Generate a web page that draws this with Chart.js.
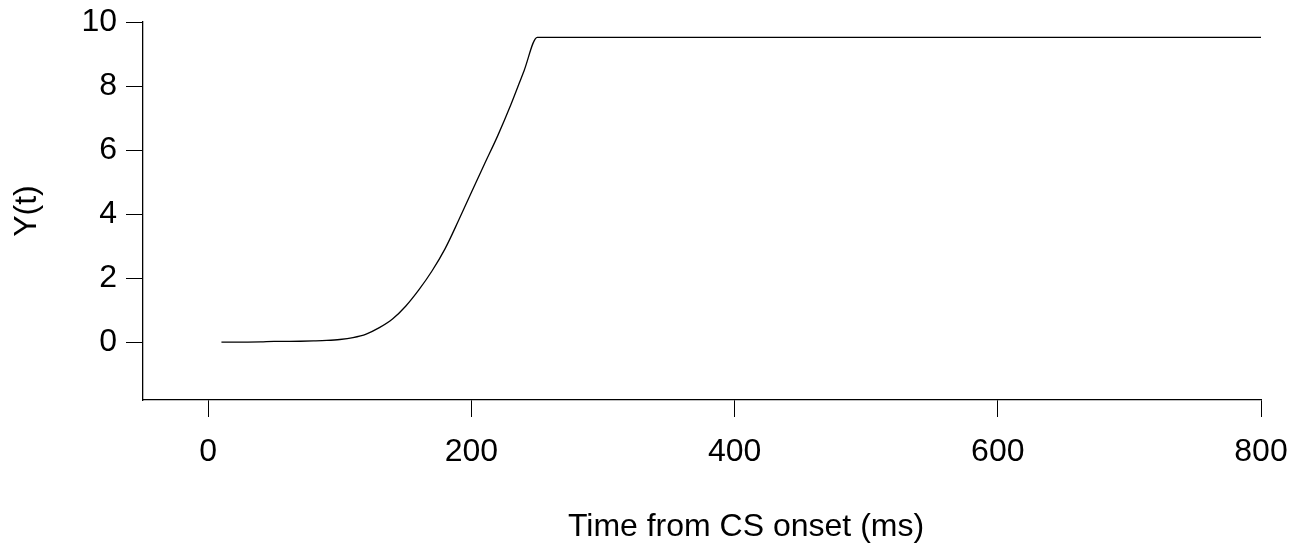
<!DOCTYPE html>
<html>
<head>
<meta charset="utf-8">
<script src="https://cdn.jsdelivr.net/npm/chart.js@4"></script>
<style>
  html, body { margin: 0; padding: 0; background: #fff; }
  #wrap { width: 1308px; height: 550px; }
</style>
</head>
<body>
<div id="wrap"><canvas id="responseChart" width="1308" height="550"></canvas></div>
<script>
// data
const timeMs = [10, 20, 30, 40, 50, 60, 70, 80, 90, 100, 110, 120, 130, 140, 150,
                160, 170, 180, 190, 200, 210, 220, 230, 240, 250, 800];
const yValues = [0, 0, 0, 0.005, 0.02, 0.02, 0.025, 0.035, 0.05, 0.08, 0.14, 0.25, 0.45, 0.72, 1.12,
                 1.63, 2.22, 2.92, 3.78, 4.68, 5.57, 6.45, 7.42, 8.48, 9.52, 9.52];
const xTicks = [0, 200, 400, 600, 800];
const yTicks = [0, 2, 4, 6, 8, 10];

const xTitle = 'Time from CS onset (ms)';
const yTitle = 'Y(t)';
const fontFamily = '"Liberation Sans", Helvetica, Arial, sans-serif';

// x title is a bit right of the plot centre in the original
const xTitlePlugin = {
  id: 'xTitle',
  afterDraw(chart) {
    const ctx = chart.ctx;
    const area = chart.chartArea;
    ctx.save();
    ctx.font = '32px ' + fontFamily;
    ctx.fillStyle = '#000';
    ctx.textAlign = 'center';
    ctx.textBaseline = 'middle';
    ctx.fillText(xTitle, (area.left + area.right) / 2 + 44, 527);
    ctx.restore();
  }
};

new Chart(document.getElementById('responseChart'), {
  type: 'line',
  data: {
    datasets: [{
      data: timeMs.map((t, i) => ({ x: t, y: yValues[i] })),
      borderColor: '#000',
      borderWidth: 1.3,
      pointRadius: 0,
      fill: false,
      cubicInterpolationMode: 'monotone'
    }]
  },
  options: {
    responsive: false,
    animation: false,
    layout: { padding: { left: 0, top: 22, right: 47, bottom: 0 } },
    plugins: {
      legend: { display: false },
      tooltip: { enabled: false }
    },
    scales: {
      x: {
        type: 'linear',
        min: -49.6,
        max: 800,
        afterBuildTicks: scale => { scale.ticks = xTicks.map(v => ({ value: v })); },
        afterFit: scale => { scale.height = 150; scale.paddingLeft = 0; scale.paddingRight = 0; },
        grid: { drawOnChartArea: false, drawTicks: true, tickLength: 17, color: '#000', lineWidth: 1 },
        border: { display: true, color: '#000', width: 1.3 },
        ticks: { color: '#000', padding: 16, maxRotation: 0, font: { size: 32, family: fontFamily } }
      },
      y: {
        min: -1.81,
        max: 10,
        afterBuildTicks: scale => { scale.ticks = yTicks.map(v => ({ value: v })); },
        afterFit: scale => { scale.width = 143; scale.paddingTop = 0; scale.paddingBottom = 0; },
        grid: { drawOnChartArea: false, drawTicks: true, tickLength: 17, color: '#000', lineWidth: 1 },
        border: { display: true, color: '#000', width: 1.3 },
        ticks: { color: '#000', padding: 9, font: { size: 32, family: fontFamily } },
        title: {
          display: true,
          text: yTitle,
          color: '#000',
          padding: { top: 8, bottom: 0 },
          font: { size: 32, family: fontFamily }
        }
      }
    }
  },
  plugins: [xTitlePlugin]
});
</script>
</body>
</html>
